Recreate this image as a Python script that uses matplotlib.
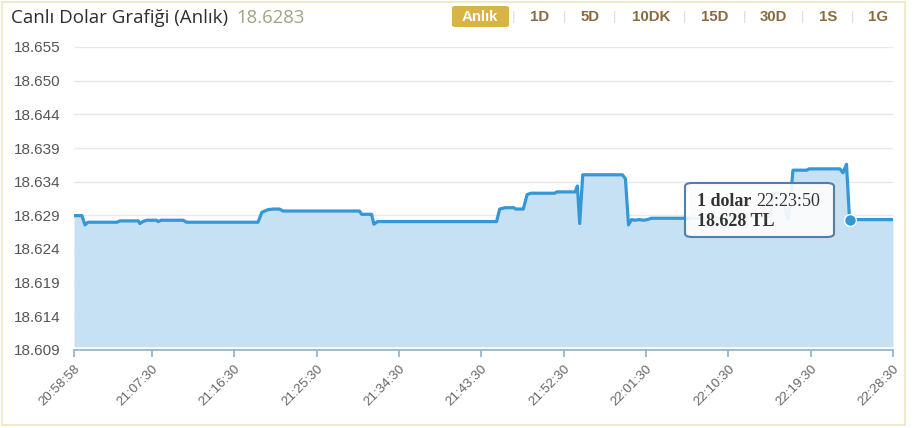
import numpy as np
import pandas as pd
import matplotlib
matplotlib.use("Agg")
import matplotlib.pyplot as plt
from matplotlib.patches import FancyBboxPatch, Rectangle

# data
times = ["20:58:58", "20:59:50", "21:00:10", "21:00:30", "21:03:40", "21:04:00",
         "21:06:00", "21:06:10", "21:06:30", "21:06:55", "21:08:00", "21:08:10",
         "21:08:30", "21:10:55", "21:11:15", "21:19:05", "21:19:30", "21:20:10",
         "21:20:45", "21:21:25", "21:21:50", "21:30:10", "21:30:25", "21:31:30",
         "21:31:45", "21:32:10", "21:45:10", "21:45:30", "21:46:05", "21:47:05",
         "21:47:15", "21:48:05", "21:48:30", "21:48:55", "21:51:30", "21:51:45",
         "21:53:45", "21:54:00", "21:54:15", "21:54:35", "21:58:55", "21:59:15",
         "21:59:35", "21:59:55", "22:00:20", "22:00:45", "22:01:15", "22:01:40",
         "22:02:05", "22:10:40", "22:11:00", "22:15:03", "22:15:36", "22:16:28",
         "22:16:55", "22:17:05", "22:17:34", "22:19:06", "22:19:19", "22:22:42",
         "22:23:02", "22:23:25", "22:23:45", "22:23:50", "22:28:30"]
prices = [18.6294, 18.6294, 18.6280, 18.6284, 18.6284, 18.6286,
          18.6286, 18.6282, 18.6285, 18.6287, 18.6287, 18.6285,
          18.6287, 18.6287, 18.6284, 18.6284, 18.6299, 18.6303,
          18.6304, 18.6304, 18.6301, 18.6301, 18.6296, 18.6296,
          18.6281, 18.6285, 18.6285, 18.6304, 18.6306, 18.6306,
          18.6304, 18.6304, 18.6326, 18.6328, 18.6328, 18.6330,
          18.6330, 18.6339, 18.6282, 18.6356, 18.6356, 18.6350,
          18.6280, 18.6288, 18.6287, 18.6288, 18.6287, 18.6288,
          18.6290, 18.6290, 18.6293, 18.6293, 18.6328, 18.6328,
          18.6289, 18.6289, 18.6363, 18.6363, 18.6365, 18.6365,
          18.6359, 18.6372, 18.6288, 18.6288, 18.6288]

y_ticks = ["18.609", "18.614", "18.619", "18.624", "18.629",
           "18.634", "18.639", "18.644", "18.650", "18.655"]
x_ticks = ["20:58:58", "21:07:30", "21:16:30", "21:25:30", "21:34:30", "21:43:30",
           "21:52:30", "22:01:30", "22:10:30", "22:19:30", "22:28:30"]

buttons = ["Anlık", "1D", "5D", "10DK", "15D", "30D", "1S", "1G"]
title = "Canlı Dolar Grafiği (Anlık)"
last_price = "18.6283"
tip_time = "22:23:50"
tip_price = "18.628"

t = pd.to_datetime(["2023-01-10 " + s for s in times])
xt = pd.to_datetime(["2023-01-10 " + s for s in x_ticks])
ymin, ymax = 18.609, 18.655
W, H = 916, 428

fig = plt.figure(figsize=(W / 100, H / 100), dpi=100)
fig.patch.set_facecolor("white")


def fx(x):
    return x / W


def fy(y):
    return 1 - y / H


# outer frame
fig.add_artist(Rectangle((fx(2), fy(425)), fx(905) - fx(2), fy(2) - fy(425),
                         transform=fig.transFigure, fill=False,
                         edgecolor="#efe5c2", lw=1.2))

ax = fig.add_axes([fx(74), fy(350), fx(893) - fx(74), fy(47) - fy(350)])
ax.set_xlim(xt[0], xt[-1])
ax.set_ylim(ymin, ymax)

line_c = "#3497d6"
ax.fill_between(t, prices, ymin + 0.0005, color="#c6e1f4", lw=0, zorder=2)
ax.plot(t, prices, color=line_c, lw=2.3, zorder=3, solid_joinstyle="round")

ypos = np.linspace(ymin, ymax, len(y_ticks))
ax.set_yticks(ypos)
ax.set_yticklabels(y_ticks)
ax.grid(axis="y", color="#e8e8e8", lw=1, zorder=0)
ax.set_xticks(xt)
ax.set_xticklabels(x_ticks, rotation=45, ha="right", rotation_mode="anchor")

for s in ["top", "right", "left"]:
    ax.spines[s].set_visible(False)
ax.spines["bottom"].set_color("#8eb0cb")
ax.spines["bottom"].set_linewidth(1.2)
ax.tick_params(axis="y", length=0, pad=10, labelsize=11, labelcolor="#555555")
ax.tick_params(axis="x", length=5, width=1.2, color="#8eb0cb", pad=4,
               labelsize=9.6, labelcolor="#666666")
for lb in ax.get_yticklabels() + ax.get_xticklabels():
    lb.set_fontfamily("Liberation Sans")

# tooltip point
tp = pd.to_datetime("2023-01-10 " + tip_time)
ax.plot([tp], [prices[times.index(tip_time)]], "o", ms=8.5, color=line_c,
        mec="white", mew=1, zorder=6)

# tooltip box
fig.add_artist(FancyBboxPatch((fx(689), fy(240)), fx(837) - fx(689), fy(185) - fy(240),
                              boxstyle="round,pad=0,rounding_size=0.008",
                              transform=fig.transFigure, facecolor="#dddddd",
                              edgecolor="none", alpha=0.5, zorder=7))
fig.add_artist(FancyBboxPatch((fx(685), fy(237)), fx(834) - fx(685), fy(183) - fy(237),
                              boxstyle="round,pad=0,rounding_size=0.008",
                              transform=fig.transFigure, facecolor=(1, 1, 1, 0.86),
                              edgecolor="#4f7fae", lw=1.5, zorder=8))
tf = ["Liberation Serif", "DejaVu Serif"]
fig.text(fx(697), fy(202), "1 dolar", fontsize=13, fontweight="bold",
         color="#333333", family=tf, va="center", zorder=9)
fig.text(fx(756), fy(202), tip_time, fontsize=13, color="#333333", family=tf,
         va="center", zorder=9)
fig.text(fx(697), fy(221), tip_price + " TL", fontsize=13, fontweight="bold",
         color="#333333", family=tf, va="center", zorder=9)

# title
fig.text(fx(11), fy(18), title, fontsize=13.5, color="#2e2e2e",
         family=["Open Sans", "DejaVu Sans"], va="center")
fig.text(fx(236), fy(18), last_price, fontsize=13.3, color="#9ea584",
         family=["Open Sans", "DejaVu Sans"], va="center")

# period buttons
btn_x = [480, 540, 590, 651, 715, 773, 828, 878]
sep_x = [514, 565, 615, 685, 745, 803, 853]
fig.add_artist(FancyBboxPatch((fx(452), fy(27)), fx(509) - fx(452), fy(6) - fy(27),
                              boxstyle="round,pad=0,rounding_size=0.004",
                              transform=fig.transFigure, facecolor="#d8b346",
                              edgecolor="none"))
for i, b in enumerate(buttons):
    fig.text(fx(btn_x[i]), fy(17), b, fontsize=10.8, fontweight="bold",
             color="white" if i == 0 else "#8b6a40", family="Liberation Sans",
             ha="center", va="center")
for sx in sep_x:
    fig.text(fx(sx), fy(17), "|", fontsize=9.5, color="#dddddd",
             family="Liberation Sans", ha="center", va="center")

fig.savefig("out.png", dpi=100)
